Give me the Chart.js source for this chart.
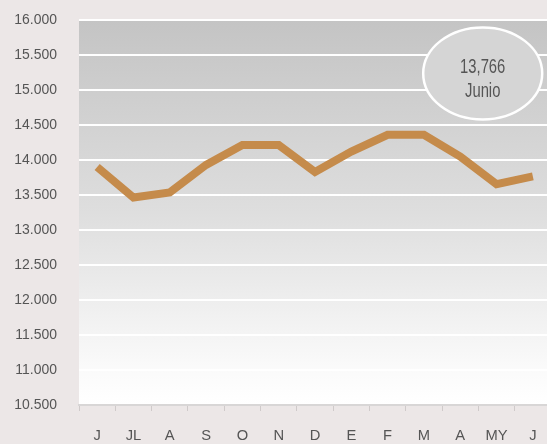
<!DOCTYPE html>
<html><head><meta charset="utf-8">
<script src="https://cdn.jsdelivr.net/npm/chart.js@4.4.1/dist/chart.umd.min.js"></script>
<style>
html,body{margin:0;padding:0;background:#ECE7E7;overflow:hidden;}
#wrap{width:547px;height:444px;overflow:hidden;position:relative;}
#c{position:absolute;left:0;top:0;}
</style></head><body>
<div id="wrap"><canvas id="c" width="551" height="444"></canvas></div>
<script>
const categories = ["J","JL","A","S","O","N","D","E","F","M","A","MY","J"];
const values = [13900,13465,13535,13930,14215,14215,13830,14120,14360,14360,14050,13655,13766];
const yTicks = [10500,11000,11500,12000,12500,13000,13500,14000,14500,15000,15500,16000];
const calloutValue = "13,766";
const calloutLabel = "Junio";
const FONT = "'Liberation Sans', Arial, sans-serif";

const canvas = document.getElementById('c');
const ctx2d = canvas.getContext('2d');
// condensed text rendering (horizontal squeeze around the anchor point)
let squeezeOverride = null;
const protoFill = CanvasRenderingContext2D.prototype.fillText;
ctx2d.fillText = function(t, x, y, mw){
  let s = squeezeOverride;
  if (s === null) s = (this.textAlign === 'right') ? 0.9 : 0.95;
  this.save();
  this.translate(x, y);
  this.scale(s, 1);
  if (mw === undefined) protoFill.call(this, t, 0, 0);
  else protoFill.call(this, t, 0, 0, mw / s);
  this.restore();
};

const bgPlugin = {
  id:'bg',
  beforeDraw(chart){
    const {ctx, chartArea:a} = chart;
    const g = ctx.createLinearGradient(0,a.top,0,a.bottom);
    g.addColorStop(0,'#C4C4C4');
    g.addColorStop(0.5,'#DEDEDE');
    g.addColorStop(0.9,'#FAFAFA');
    g.addColorStop(1,'#FFFFFF');
    ctx.save();
    ctx.fillStyle = g;
    ctx.fillRect(a.left,a.top,a.right-a.left,a.bottom-a.top);
    ctx.restore();
  }
};
const calloutPlugin = {
  id:'callout',
  afterDatasetsDraw(chart){
    const {ctx, chartArea:a, scales} = chart;
    const cx = a.right - 68.3;
    const cy = scales.y.getPixelForValue(15237);
    ctx.save();
    ctx.beginPath();
    ctx.ellipse(cx, cy, 59.5, 46, 0, 0, Math.PI*2);
    ctx.fillStyle = '#D5D5D5';
    ctx.fill();
    ctx.lineWidth = 2.5;
    ctx.strokeStyle = '#FFFFFF';
    ctx.stroke();
    ctx.fillStyle = '#555555';
    ctx.font = "20px " + FONT;
    ctx.textAlign = 'center';
    ctx.textBaseline = 'alphabetic';
    squeezeOverride = 0.74;
    ctx.fillText(calloutValue, cx, cy);
    ctx.fillText(calloutLabel, cx, cy + 24);
    squeezeOverride = null;
    ctx.restore();
  }
};

new Chart(canvas, {
  type:'line',
  data:{labels:categories, datasets:[{data:values, borderColor:'#C58B4B', borderWidth:8, pointRadius:0, tension:0, fill:false}]},
  options:{
    responsive:false, animation:false,
    layout:{padding:{left:0,right:0,top:20,bottom:0}},
    plugins:{legend:{display:false}, tooltip:{enabled:false}},
    scales:{
      x:{
        offset:true,
        afterFit(s){ s.height = 39; s.paddingLeft = 0; s.paddingRight = 0; },
        grid:{display:true, drawOnChartArea:false, drawTicks:true, tickLength:6, color:'#CFCACA', lineWidth:1, offset:true},
        border:{display:true, color:'#D8D6D6', width:2},
        ticks:{color:'#555555', font:{family:FONT, size:15.5}, padding:15, maxRotation:0, autoSkip:false}
      },
      y:{
        min:10500, max:16000,
        afterBuildTicks(s){ s.ticks = yTicks.map(v=>({value:v})); },
        afterFit(s){ s.width = 79; s.paddingTop = 0; s.paddingBottom = 0; },
        grid:{color:'#FFFFFF', lineWidth:2, drawTicks:false},
        border:{display:false},
        ticks:{color:'#555555', font:{family:FONT, size:15.5}, padding:22,
          callback:(v)=> (v/1000).toFixed(3)}
      }
    }
  },
  plugins:[bgPlugin, calloutPlugin]
});
</script>
</body></html>
